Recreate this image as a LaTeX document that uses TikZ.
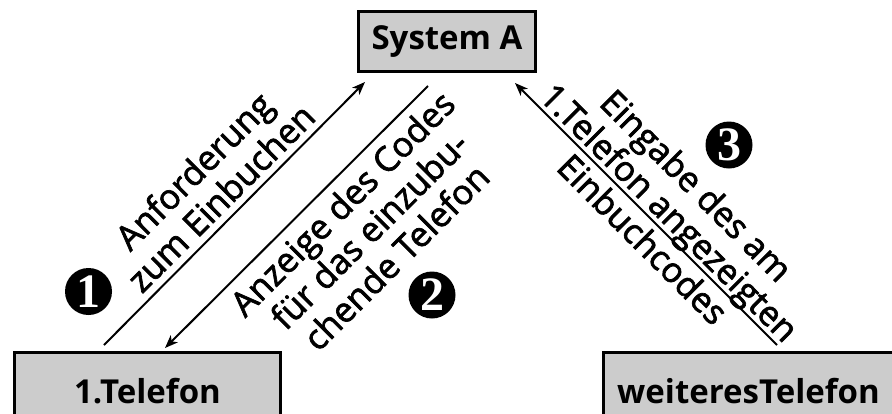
\documentclass[tikz,border=0pt]{standalone}
\usepackage{fontspec}
\setmainfont{Open Sans}
\newfontfamily\lblfont[FakeBold=2]{Open Sans}
\newfontfamily\numfont{Liberation Serif}
\usetikzlibrary{arrows.meta}
\definecolor{boxgray}{HTML}{CCCCCC}
\begin{document}
\begin{tikzpicture}[x=1pt,y=-1pt,
  box/.style={draw=black, line width=3pt, fill=boxgray, inner sep=0pt},
  boxtext/.style={font=\fontsize{33}{38}\selectfont\bfseries},
  lbl/.style={font=\lblfont\fontsize{34.5}{38}\selectfont, align=center, inner sep=0pt},
  num/.style={circle, fill=black, text=white, minimum size=47pt, inner sep=0pt, font=\numfont\fontsize{48}{48}\selectfont\bfseries},
  arr/.style={line width=2pt, -{Stealth[length=13pt,width=10pt,inset=3.5pt]}}
]
\useasboundingbox (0,0) rectangle (892,413);
\clip (0,0) rectangle (892,413);

\node[box, boxtext, minimum width=177pt, minimum height=60pt] (sys) at (447,41.5) {System A};
\node[box, boxtext, minimum width=266pt, minimum height=77pt] (t1) at (147.5,391) {1.Telefon};
\node[box, boxtext, minimum width=290pt, minimum height=77pt] (t2) at (748.5,391) {weiteresTelefon};

\coordinate (a1s) at (104,345);
\coordinate (a1e) at (365,82);
\coordinate (a2s) at (428,86);
\coordinate (a2e) at (165,348);
\coordinate (a3s) at (777,345);
\coordinate (a3e) at (515,83);

\draw[arr] (a1s) -- (a1e);
\draw[arr] (a2s) -- (a2e);
\draw[arr] (a3s) -- (a3e);

\node[lbl, rotate=45] (l1) at (207,184) {Anforderung\\zum Einbuchen};
\node[lbl, rotate=45] (l2) at (369,230) {Anzeige des Codes\\für das einzubu-\\chende Telefon};
\node[lbl, rotate=-45] (l3) at (670,212) {Eingabe des am\\1.Telefon angezeigten\\Einbuchcodes};

\node[num] (n1) at (88.5,291.5) {1};
\node[num] (n2) at (432,295) {2};
\node[num] (n3) at (729,145) {3};
\end{tikzpicture}
\end{document}
